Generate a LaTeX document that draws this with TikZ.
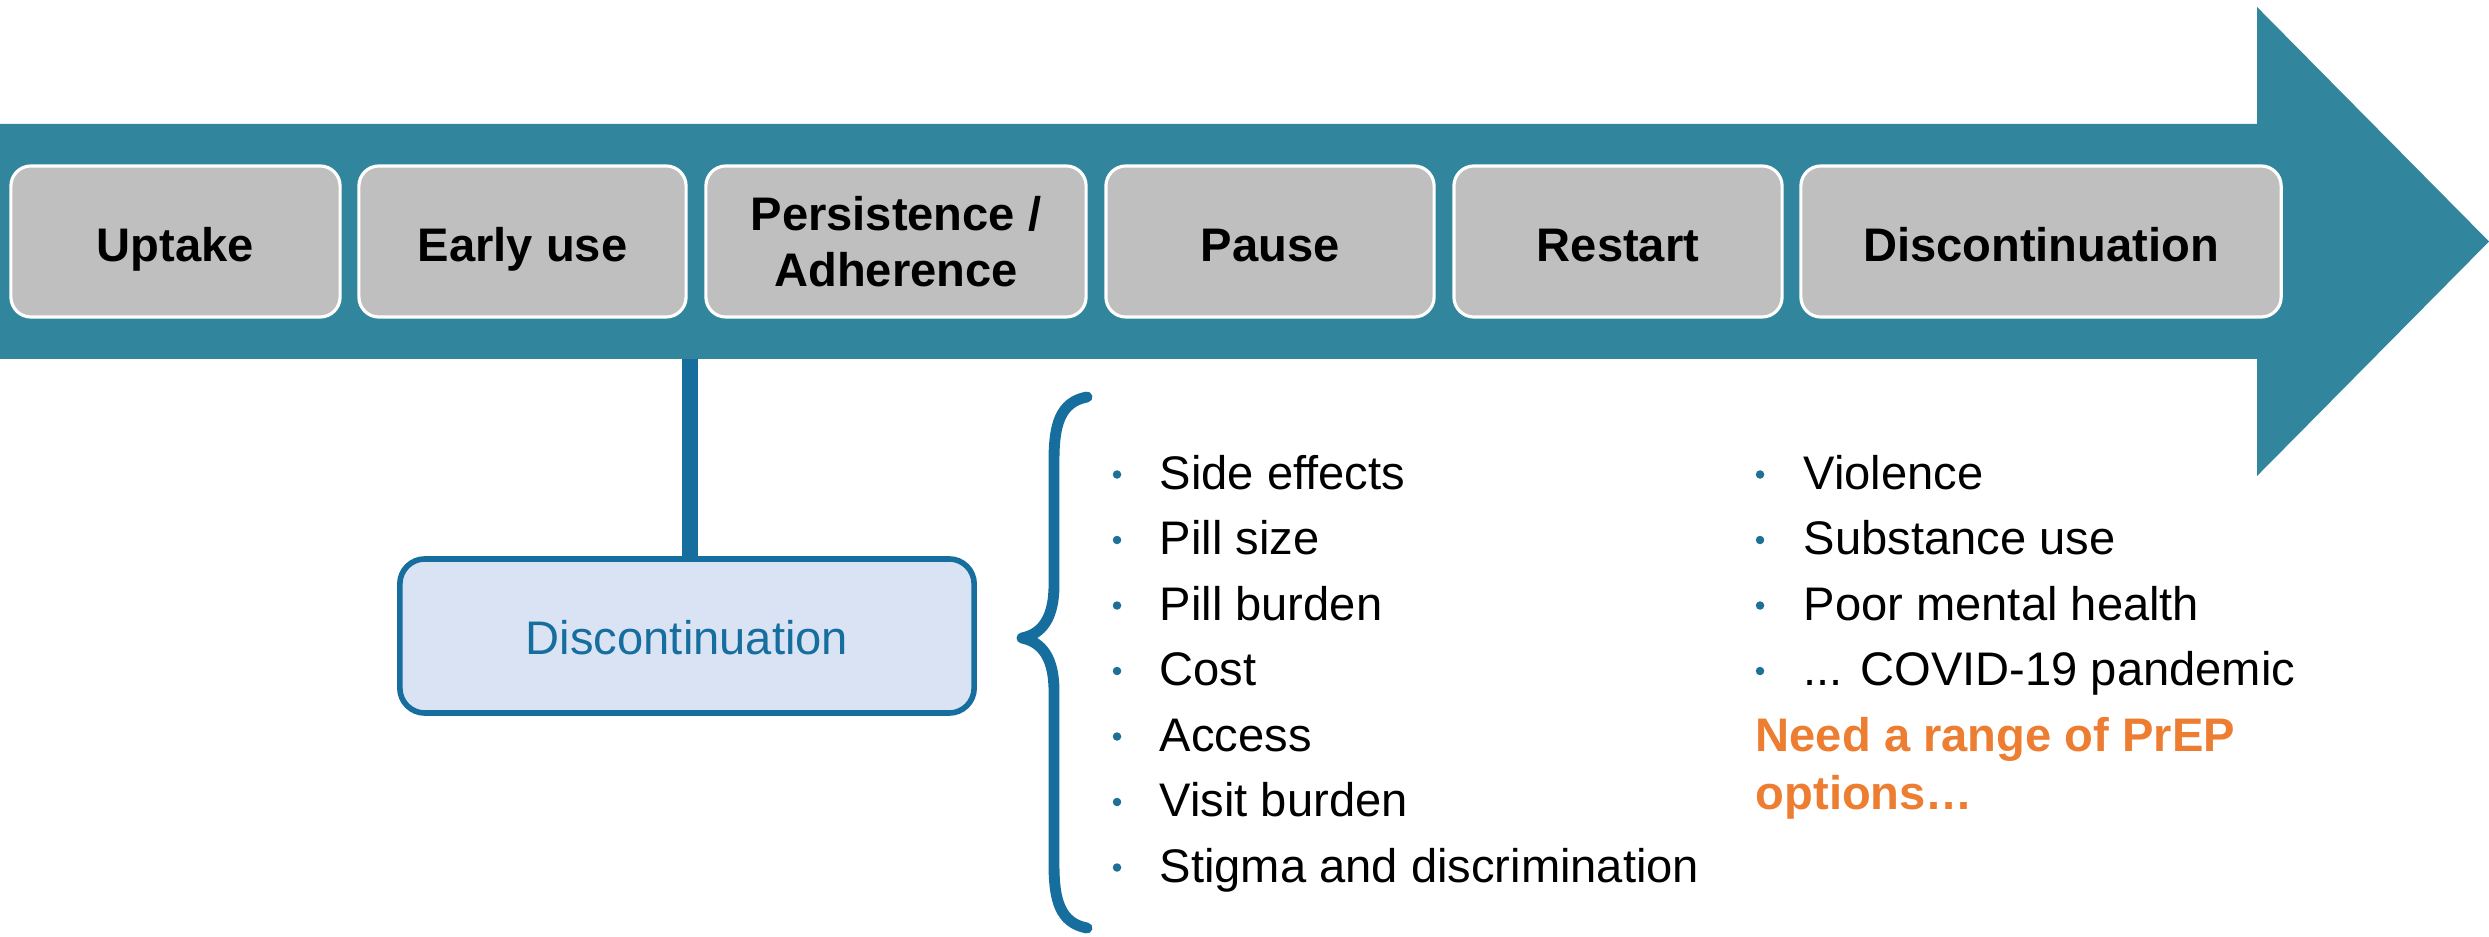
\documentclass[tikz,border=0pt]{standalone}
\usepackage{fontspec}
\setmainfont{Liberation Sans}
\definecolor{arrowteal}{RGB}{49,133,156}
\definecolor{boxgray}{RGB}{191,191,191}
\definecolor{linkblue}{RGB}{22,110,158}
\definecolor{paleblue}{RGB}{218,227,243}
\definecolor{bulletblue}{RGB}{31,112,150}
\definecolor{accentorange}{RGB}{237,125,49}
\tikzset{
  stagebox/.style={draw=white, line width=0.9pt, fill=boxgray, rounded corners=0.2cm,
    minimum height=1.51cm, inner sep=0pt, align=center,
    font=\fontsize{13.4pt}{16pt}\selectfont\bfseries},
  oneline/.style={text height=0.39cm, text depth=0cm},
  discbox/.style={draw=linkblue, line width=1.6pt, fill=paleblue, rounded corners=0.25cm,
    minimum width=5.74cm, minimum height=1.54cm, inner sep=0pt, text=linkblue,
    text height=0.36cm, text depth=0cm,
    font=\fontsize{13.4pt}{16pt}\selectfont},
  itemtext/.style={anchor=base west, inner sep=0pt, font=\fontsize{13.4pt}{16pt}\selectfont},
  bulletdot/.style={circle, fill=bulletblue, inner sep=0pt, minimum size=0.085cm},
  orangetext/.style={anchor=base west, inner sep=0pt, text=accentorange,
    font=\fontsize{13.4pt}{16pt}\selectfont\bfseries}
}
\begin{document}
\begin{tikzpicture}[x=0.01cm, y=-0.01cm]
\useasboundingbox (0,0) rectangle (2489,937);
% big arrow
\fill[arrowteal] (0,124) -- (2257,124) -- (2257,7) -- (2489,241.5) -- (2257,476) -- (2257,359) -- (0,359) -- cycle;
\coordinate (arrowbot) at (690,359);
% stage boxes
\node[stagebox, oneline, minimum width=3.29cm] (uptake) at (175.5,241.5) {Uptake};
\node[stagebox, oneline, minimum width=3.27cm] (early) at (522.5,241.5) {Early use};
\node[stagebox, minimum width=3.80cm] (persist) at (896,241.5) {Persistence /\\Adherence};
\node[stagebox, oneline, minimum width=3.28cm] (pause) at (1270,241.5) {Pause};
\node[stagebox, oneline, minimum width=3.28cm] (restart) at (1618,241.5) {Restart};
\node[stagebox, oneline, minimum width=4.80cm] (discont) at (2041,241.5) {Discontinuation};
% discontinuation detail box
\node[discbox] (dbox) at (687,636) {Discontinuation};
\draw[linkblue, line width=4.5pt] (arrowbot) -- (arrowbot |- dbox.north);
% brace
\draw[linkblue, line width=3.1pt, line cap=round, line join=round]
  (1087,397) .. controls (1060,402) and (1054,425) .. (1054,460) -- (1054,585)
  .. controls (1054,618) and (1042,634) .. (1022,638)
  .. controls (1042,642) and (1054,658) .. (1054,691) -- (1054,865)
  .. controls (1054,900) and (1060,923) .. (1087,928);
% left list
\foreach \t [count=\i from 0] in {Side effects, Pill size, Pill burden, Cost, Access, Visit burden, Stigma and discrimination}{
  \node[bulletdot] (lb\i) at (1117,{489+65.5*\i-14.5}) {};
  \node[itemtext] (lt\i) at (1159,{489+65.5*\i}) {\t};
}
% right list
\foreach \t [count=\i from 0] in {Violence, Substance use, Poor mental health, {{... COVID-19 pandemic}}}{
  \node[bulletdot] (rb\i) at (1760,{489+65.5*\i-14.5}) {};
  \node[itemtext] (rt\i) at (1803,{489+65.5*\i}) {\t};
}
\node[orangetext] (need) at (1755,751) {Need a range of PrEP};
\node[orangetext] (opts) at (1755,809) {options…};
\end{tikzpicture}
\end{document}
